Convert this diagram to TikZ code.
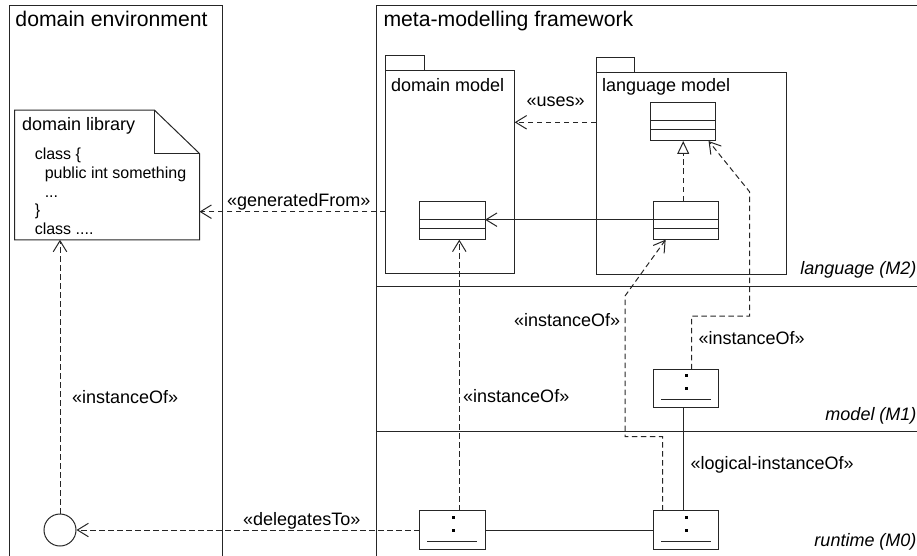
\documentclass[tikz,border=0pt]{standalone}
\usepackage{fontspec}
\setmainfont{Liberation Sans}
\usetikzlibrary{arrows.meta,calc}

% compartment lines of a UML class box
\newcommand\classlines[1]{%
  \draw ($(#1.north west)+(0,18.7)$) -- ($(#1.north east)+(0,18.7)$);
  \draw ($(#1.north west)+(0,27)$) -- ($(#1.north east)+(0,27)$);}
% ":" and underline of an anonymous object box
\newcommand\objmarks[1]{%
  \fill ($(#1.center)+(-0.8,-14.4)$) rectangle ++(3,3);
  \fill ($(#1.center)+(-0.8,-1.1)$) rectangle ++(3,3);
  \draw ($(#1.center)+(-25,11)$) -- ($(#1.center)+(25,11)$);}

\begin{document}
\begin{tikzpicture}[x=1pt,y=-1pt,line width=1pt,draw=black!85,
  lbl/.style={inner sep=0pt,anchor=base west,font=\fontsize{18}{20}\selectfont},
  code/.style={inner sep=0pt,anchor=base west,font=\fontsize{16}{18}\selectfont},
  titletext/.style={inner sep=0pt,anchor=base west,font=\fontsize{21.2}{25}\selectfont},
  layer/.style={inner sep=0pt,anchor=base east,font=\fontsize{18}{20}\selectfont\itshape},
  umlbox/.style={draw,minimum width=65.5pt,minimum height=38.7pt,inner sep=0pt,outer sep=0pt},
  pkgbody/.style={draw,inner sep=0pt,outer sep=0pt},
  dep/.style={dash pattern=on 5.5pt off 3.5pt,-{Straight Barb[length=11pt,width=13.5pt]}},
  navig/.style={-{Straight Barb[length=11pt,width=13.5pt]}},
  realize/.style={dash pattern=on 5.5pt off 3.5pt,-{Triangle[open,length=13pt,width=12pt]}}]
\useasboundingbox (0,0) rectangle (917,556);

% swimlane frames and metalevel separators
\draw (9,556) -- (9,6) -- (222.7,6) -- (222.7,556);
\draw (376.7,556) -- (376.7,6) -- (917,6);
\draw (376.7,286.7) -- (917,286.7);
\draw (376.7,431.7) -- (917,431.7);
\node[titletext] (tenv) at (15,27) {domain environment};
\node[titletext] (tmeta) at (383,27) {meta-modelling framework};

% layer names
\node[layer] (lm2) at (917,274.3) {language (M2)};
\node[layer] (lm1) at (917,420) {model (M1)};
\node[layer] (lm0) at (917,546.7) {runtime (M0)};

% domain library note
\node[minimum width=184pt,minimum height=128.6pt,inner sep=0pt] (note) at (107,175) {};
\draw (note.south west) -- (note.north west) -- ($(note.north east)+(-45,0)$)
  -- ($(note.north east)+(0,43.3)$) -- (note.south east) -- cycle;
\draw ($(note.north east)+(-45,0)$) |- ($(note.north east)+(0,43.3)$);
\node[lbl] (notetitle) at (21.7,130.2) {domain library};
\node[code] (c1) at (34.3,159.8) {class \{};
\node[code] (c2) at (44.3,178.4) {public int something};
\node[code] (c3) at (44.3,197) {...};
\node[code] (c4) at (34.3,215.6) {\}};
\node[code] (c5) at (34.3,234.2) {class ....};

% interface circle
\node[draw,circle,minimum size=32pt,inner sep=0pt] (iface) at (60,530) {};

% packages
\node[pkgbody,minimum width=129.4pt,minimum height=202.3pt] (dmpkg) at (450,172.15) {};
\draw (dmpkg.north west) -- ++(0,-15.3) -- ++(38.7,0) -- ++(0,15.3);
\node[lbl] (dmname) at (390.7,91.2) {domain model};
\node[pkgbody,minimum width=190.7pt,minimum height=201.3pt] (lmpkg) at (691.35,173.65) {};
\draw (lmpkg.north west) -- ++(0,-15.7) -- ++(38.3,0) -- ++(0,15.7);
\node[lbl] (lmname) at (601.5,91.2) {language model};

% classes
\node[umlbox] (dmc) at (452.3,220.35) {};
\classlines{dmc}
\node[umlbox] (lmc1) at (683.2,121.65) {};
\classlines{lmc1}
\node[umlbox] (lmc2) at (686,220.35) {};
\classlines{lmc2}

% objects
\node[umlbox,minimum height=38.5pt] (m1) at (686,388.5) {};
\objmarks{m1}
\node[umlbox,minimum height=39pt] (m0a) at (452.3,530) {};
\objmarks{m0a}
\node[umlbox,minimum height=39pt] (m0b) at (686,530) {};
\objmarks{m0b}

% connector heights
\coordinate (ygen) at (0,211.7);
\coordinate (yuse) at (0,122.3);
\coordinate (yasc) at (0,219.7);

% connectors
\draw[dep] (dmpkg.west |- ygen) -- (note.east |- ygen);
\node[lbl] (lgen) at (226.7,206) {«generatedFrom»};
\draw[dep] (lmpkg.west |- yuse) -- (dmpkg.east |- yuse);
\node[lbl] (luse) at (526,106.2) {«uses»};
\draw[navig] (lmc2.west |- yasc) -- (dmc.east |- yasc);
\draw[realize] (lmc2.north -| lmc1.south) -- (lmc1.south);

\draw[dep] (iface.north) -- (iface.north |- note.south);
\node[lbl] (linst0) at (71.7,403) {«instanceOf»};
\draw[dep] (m0a.west) -- (iface.east);
\node[lbl] (ldel) at (242.7,525.2) {«delegatesTo»};
\draw (m0a.east) -- (m0b.west);

\draw[dep] ($(m0a.north)+(7,0)$) -- ($(dmc.south)+(7,0)$);
\node[lbl] (linst1) at (462.7,402.2) {«instanceOf»};

\draw[dep] ($(m0b.north west)+(9.4,0)$) |- (625,436.7) -- (625,296)
  -- ($(lmc2.south west)+(12.4,0)$);
\node[lbl,anchor=base east] (linst2) at (620.7,326.2) {«instanceOf»};

\draw[dep] ($(m1.north)+(5.7,0)$) |- (749.5,316) -- (749.5,191.7)
  -- ($(lmc1.south east)+(-7.4,0)$);
\node[lbl] (linst3) at (698,344.6) {«instanceOf»};

\draw ($(m1.south)+(-2.5,0)$) -- ($(m0b.north)+(-2.5,0)$);
\node[lbl] (llog) at (690,469.6) {«logical-instanceOf»};
\end{tikzpicture}
\end{document}
